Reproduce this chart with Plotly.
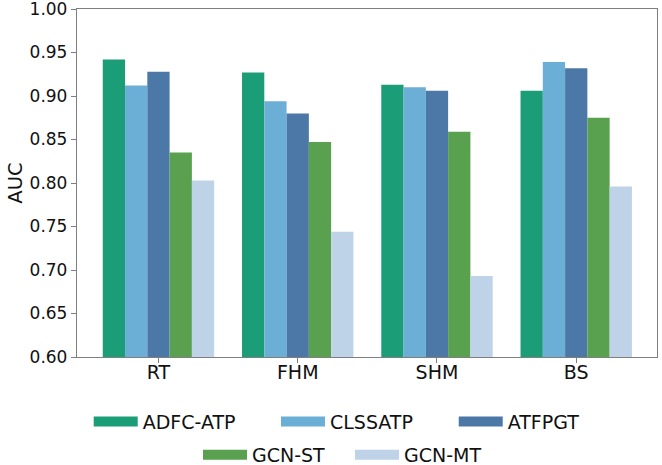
import plotly.graph_objects as go

categories = ["RT", "FHM", "SHM", "BS"]
methods = ["ADFC-ATP", "CLSSATP", "ATFPGT", "GCN-ST", "GCN-MT"]
adfc_atp = [0.942, 0.927, 0.913, 0.906]
clssatp = [0.912, 0.894, 0.910, 0.939]
atfpgt = [0.928, 0.880, 0.906, 0.932]
gcn_st = [0.835, 0.847, 0.859, 0.875]
gcn_mt = [0.803, 0.744, 0.693, 0.796]
series = [adfc_atp, clssatp, atfpgt, gcn_st, gcn_mt]
colors = ["#1b9e77", "#6baed6", "#4c78a8", "#59a14f", "#bed3e8"]
y_ticks = [0.60, 0.65, 0.70, 0.75, 0.80, 0.85, 0.90, 0.95, 1.00]

# legend entry placement (container coords): one legend per entry
legend_x = [0.1340, 0.4169, 0.6854, 0.2991, 0.5287]
legend_y = [0.0931, 0.0931, 0.0931, 0.0215, 0.0215]

FONT = "DejaVu Sans"
fig = go.Figure()
for name, vals, col in zip(methods, series, colors):
    fig.add_trace(go.Bar(x=categories, y=vals, name=name, marker_color=col,
                         marker_line_width=0, showlegend=False))
legend_layout = {}
for i, (name, col) in enumerate(zip(methods, colors)):
    lid = "legend" if i == 0 else f"legend{i+1}"
    fig.add_trace(go.Scatter(x=[None], y=[None], mode="lines", name=name,
                             line=dict(color=col, width=14), legend=lid,
                             showlegend=True))
    legend_layout[lid] = dict(orientation="h", xref="container", yref="container",
                              xanchor="left", x=legend_x[i],
                              yanchor="middle", y=legend_y[i],
                              font=dict(size=19, family=FONT),
                              bgcolor="rgba(0,0,0,0)", itemwidth=44)

axis_line = dict(showline=True, linecolor="#7f7f7f", linewidth=1.3, mirror=True,
                 ticks="outside", ticklen=5, tickcolor="#7f7f7f", showgrid=False,
                 zeroline=False)
fig.update_layout(
    width=662, height=465,
    margin=dict(l=77, r=5, t=9, b=108, autoexpand=False),
    plot_bgcolor="white", paper_bgcolor="white",
    barmode="group", bargap=0.2, bargroupgap=0,
    font=dict(family=FONT, color="#111111"),
    xaxis=dict(range=[-0.585, 3.58], tickfont=dict(size=19, family=FONT),
               ticklabelstandoff=-7, **axis_line),
    yaxis=dict(range=[0.6, 1.0], tickvals=y_ticks, ticktext=[f"{v:.2f}" for v in y_ticks],
               tickfont=dict(size=17, family=FONT), ticklabeloverflow="allow",
               title=dict(text="AUC", font=dict(size=19.5, family=FONT), standoff=1),
               **axis_line),
    **legend_layout,
)
fig.write_html("out.html")
